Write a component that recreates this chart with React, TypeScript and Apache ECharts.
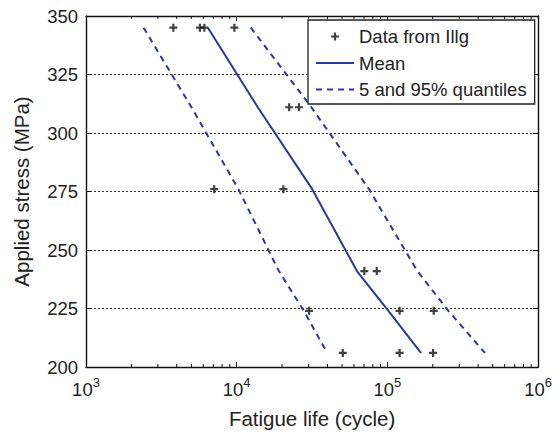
import React, { useEffect, useRef } from 'react';
import * as echarts from 'echarts';

// Experimental data (Illg): fatigue life (cycles) and applied stress (MPa)
const dataLife = [3800, 5700, 6100, 9650, 22300, 25900, 7090, 20400, 70300, 85000, 30200, 120500, 203000, 50600, 120500, 201000];
const dataStress = [345, 345, 345, 345, 311, 311, 276, 276, 241, 241, 224, 224, 224, 206, 206, 206];

// Curves at stress levels
const curveStress = [345, 311, 276, 241, 224, 206];
const meanLife = [6440, 13800, 31700, 62800, 101600, 167000];
const q05Life = [2410, 5010, 10260, 19050, 27900, 39900];
const q95Life = [12400, 31300, 75500, 158000, 254000, 444000];

const minorMultipliers = [2, 3, 4, 5, 6, 7, 8, 9];
const decades = [1000, 10000, 100000];

const FONT = 'Liberation Sans, Arial, Helvetica, sans-serif';
const BLUE = '#2a3a98';
const TXT = '#222';
const PLUS = 'path://M-1.1,-4H1.1V-1.1H4V1.1H1.1V4H-1.1V1.1H-4V-1.1H-1.1Z';

export default function App() {
  const ref = useRef<HTMLDivElement>(null);
  useEffect(() => {
    const chart = echarts.init(ref.current!, null, { renderer: 'svg' });
    const axisLine = { show: true, lineStyle: { color: '#111', width: 1.4 } };
    const tick = { show: true, inside: true, length: 5, lineStyle: { color: '#111', width: 1 } };
    const xBase = {
      type: 'log' as const,
      logBase: 10,
      min: 1000,
      max: 1000000,
      splitLine: { show: false },
      axisLine,
      axisTick: tick,
    };
    const yBase = {
      type: 'value' as const,
      min: 200,
      max: 350,
      interval: 25,
      axisLine,
      axisTick: tick,
    };
    chart.setOption({
      animation: false,
      backgroundColor: '#fff',
      textStyle: { fontFamily: FONT },
      grid: { left: 86, right: 13, top: 16, bottom: 67, containLabel: false },
      xAxis: [
        {
          ...xBase,
          position: 'bottom',
          name: 'Fatigue life (cycle)',
          nameLocation: 'middle',
          nameGap: 41,
          nameTextStyle: { fontSize: 20.5, color: TXT, fontFamily: FONT },
          axisLabel: {
            margin: 9,
            formatter: (v: number) => `{b|10}{s|${Math.round(Math.log10(v))}}`,
            rich: {
              b: { fontSize: 18.5, fontFamily: FONT, color: TXT, lineHeight: 26 },
              s: { fontSize: 13, fontFamily: FONT, color: TXT, lineHeight: 8, verticalAlign: 'top' },
            },
          },
        },
        {
          ...xBase,
          position: 'top',
          axisLabel: { show: false },
        },
      ],
      yAxis: [
        {
          ...yBase,
          position: 'left',
          name: 'Applied stress (MPa)',
          nameLocation: 'middle',
          nameGap: 54,
          nameTextStyle: { fontSize: 20.5, color: TXT, fontFamily: FONT },
          axisLabel: { fontSize: 18.5, color: TXT, margin: 8, fontFamily: FONT },
          splitLine: { show: true, lineStyle: { type: [2, 2], color: '#333', width: 1 } },
        },
        {
          ...yBase,
          position: 'right',
          axisLabel: { show: false },
          splitLine: { show: false },
        },
      ],
      legend: {
        orient: 'vertical',
        left: 308,
        top: 20,
        padding: [7, 8, 5, 7],
        itemGap: 7.5,
        itemWidth: 38,
        itemHeight: 8,
        backgroundColor: '#fff',
        borderColor: '#222',
        borderWidth: 1.3,
        textStyle: { fontSize: 18.5, color: TXT, fontFamily: FONT, lineHeight: 19 },
        data: [
          { name: 'Data from Illg' },
          { name: 'Mean', itemStyle: { opacity: 0 } },
          { name: '5 and 95% quantiles', itemStyle: { opacity: 0 } },
        ],
      },
      series: [
        {
          name: 'Data from Illg',
          type: 'scatter',
          symbol: PLUS,
          symbolSize: 8,
          itemStyle: { color: '#111' },
          data: dataLife.map((v, i) => [v, dataStress[i]]),
          z: 5,
        },
        {
          name: 'Mean',
          type: 'line',
          symbol: 'none',
          lineStyle: { color: BLUE, width: 2 },
          itemStyle: { color: BLUE },
          data: meanLife.map((v, i) => [v, curveStress[i]]),
        },
        {
          name: '5 and 95% quantiles',
          type: 'line',
          symbol: 'none',
          lineStyle: { color: BLUE, width: 2, type: [6, 5] },
          itemStyle: { color: BLUE },
          data: q05Life.map((v, i) => [v, curveStress[i]]),
        },
        {
          name: '5 and 95% quantiles',
          type: 'line',
          symbol: 'none',
          lineStyle: { color: BLUE, width: 2, type: [6, 5] },
          itemStyle: { color: BLUE },
          data: q95Life.map((v, i) => [v, curveStress[i]]),
        },
      ],
    });

    // minor log ticks on bottom and top axes
    const graphics: any[] = [];
    const yBottom = chart.convertToPixel({ yAxisIndex: 0 }, 200) as number;
    const yTop = chart.convertToPixel({ yAxisIndex: 0 }, 350) as number;
    decades.forEach((d) => {
      minorMultipliers.forEach((m) => {
        const x = chart.convertToPixel({ xAxisIndex: 0 }, d * m) as number;
        graphics.push({
          type: 'line',
          shape: { x1: x, y1: yBottom, x2: x, y2: yBottom - 3 },
          style: { stroke: '#111', lineWidth: 1 },
          silent: true,
        });
        graphics.push({
          type: 'line',
          shape: { x1: x, y1: yTop, x2: x, y2: yTop + 3 },
          style: { stroke: '#111', lineWidth: 1 },
          silent: true,
        });
      });
    });
    chart.setOption({ graphic: graphics });

    return () => chart.dispose();
  }, []);
  return <div ref={ref} style={{ position: 'fixed', left: 0, top: 0, width: 555, height: 434 }} />;
}
